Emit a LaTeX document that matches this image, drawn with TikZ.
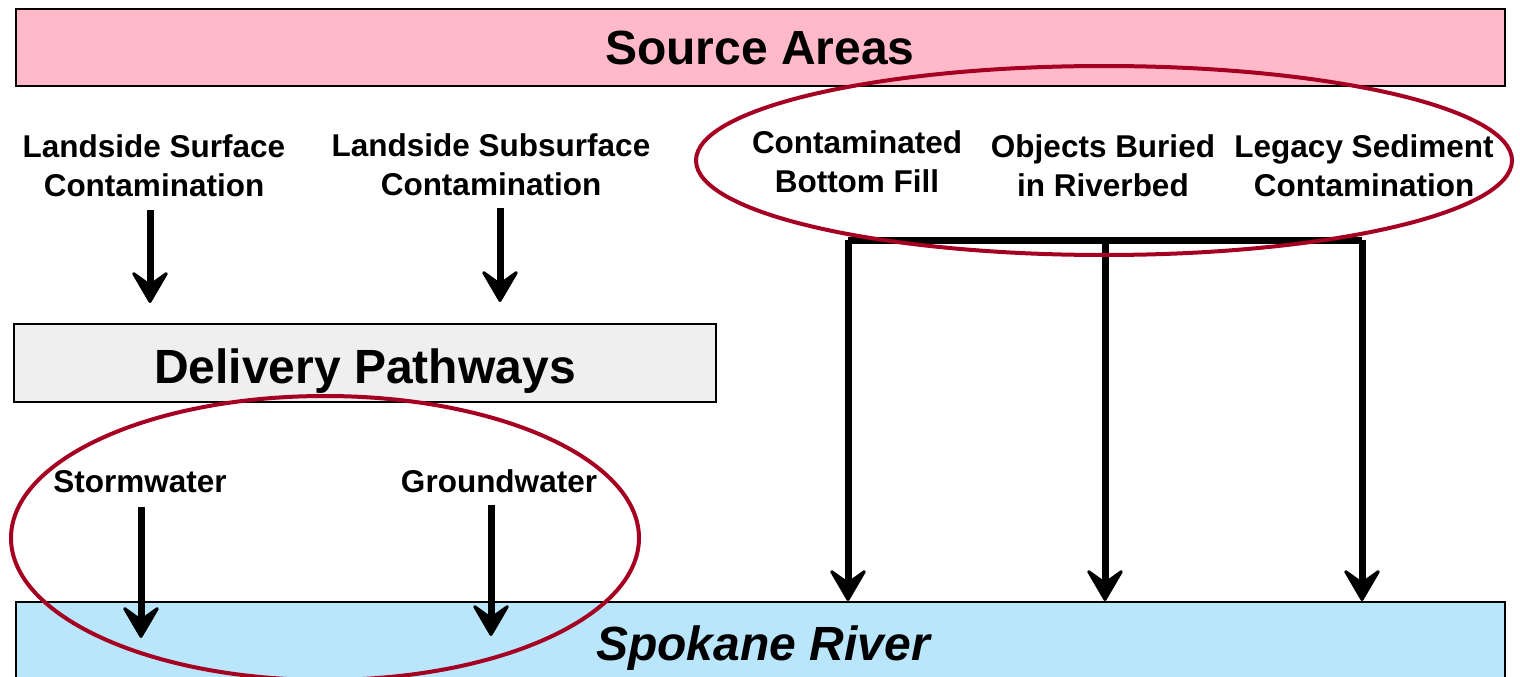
\documentclass[tikz,border=0pt]{standalone}
\usepackage{fontspec}
\setmainfont{Liberation Sans}
\usetikzlibrary{arrows.meta}
\definecolor{pinkfill}{HTML}{FFB9C8}
\definecolor{grayfill}{HTML}{EFEFEF}
\definecolor{bluefill}{HTML}{BAE6FC}
\definecolor{ringred}{HTML}{A50021}
\begin{document}
\begin{tikzpicture}[x=1pt,y=-1pt,
  box/.style={draw=black,line width=2.5pt,inner sep=0pt},
  big/.style={font=\bfseries\fontsize{48}{56}\selectfont,inner sep=0pt,anchor=base},
  lbl/.style={font=\bfseries\fontsize{31.5}{39}\selectfont,align=center,inner sep=0pt,anchor=north},
  arr/.style={line width=7pt,-{Stealth[length=36pt,width=42pt,inset=15pt,round,line width=3pt]}},
  bus/.style={line width=7pt,line cap=square},
  ring/.style={draw=ringred,line width=4pt}]
\useasboundingbox (0,0) rectangle (1520,677);
\clip (0,0) rectangle (1520,677);
% boxes
\node[box,fill=pinkfill,minimum width=1489pt,minimum height=77pt] (src) at (760.5,47.5) {};
\node[big] (srct) at (760,65) {Source Areas};
\node[box,fill=grayfill,minimum width=702pt,minimum height=78pt] (dp) at (365,363) {};
\node[big] (dpt) at (365,383) {Delivery Pathways};
\node[box,fill=bluefill,minimum width=1489pt,minimum height=120pt] (river) at (760.5,662) {};
\node[big,font=\bfseries\itshape\fontsize{48}{56}\selectfont] (rivt) at (763,660) {Spokane River};
% labels
\node[lbl] (lsc) at (154,134) {Landside Surface\\Contamination};
\node[lbl] (lssc) at (491,133) {Landside Subsurface\\Contamination};
\node[lbl] (cbf) at (857,130) {Contaminated\\Bottom Fill};
\node[lbl] (obr) at (1103,134) {Objects Buried\\in Riverbed};
\node[lbl] (lsed) at (1364,134) {Legacy Sediment\\Contamination};
\node[lbl] (sw) at (140,470) {Stormwater};
\node[lbl] (gw) at (499,469) {Groundwater};
% coordinates
\coordinate (a1s) at (150,210); \coordinate (a1e) at (150,303);
\coordinate (a2s) at (500,208); \coordinate (a2e) at (500,302);
\coordinate (a3s) at (141,507); \coordinate (a3e) at (141,638);
\coordinate (a4s) at (491,505); \coordinate (a4e) at (491,636);
\coordinate (j1) at (848,240); \coordinate (j2) at (1105,240); \coordinate (j3) at (1362,240);
\coordinate (t1) at (848,601); \coordinate (t2) at (1105,601); \coordinate (t3) at (1362,601);
% arrows
\draw[arr] (a1s) -- (a1e);
\draw[arr] (a2s) -- (a2e);
\draw[arr] (a3s) -- (a3e);
\draw[arr] (a4s) -- (a4e);
\draw[bus] (j1) -- (j3);
\draw[arr] (j1) -- (t1);
\draw[arr] (j2) -- (t2);
\draw[arr] (j3) -- (t3);
% rings
\draw[ring] (1104,160.5) ellipse [x radius=408, y radius=94.5];
\draw[ring] (325,538) ellipse [x radius=314, y radius=142];
\end{tikzpicture}
\end{document}
